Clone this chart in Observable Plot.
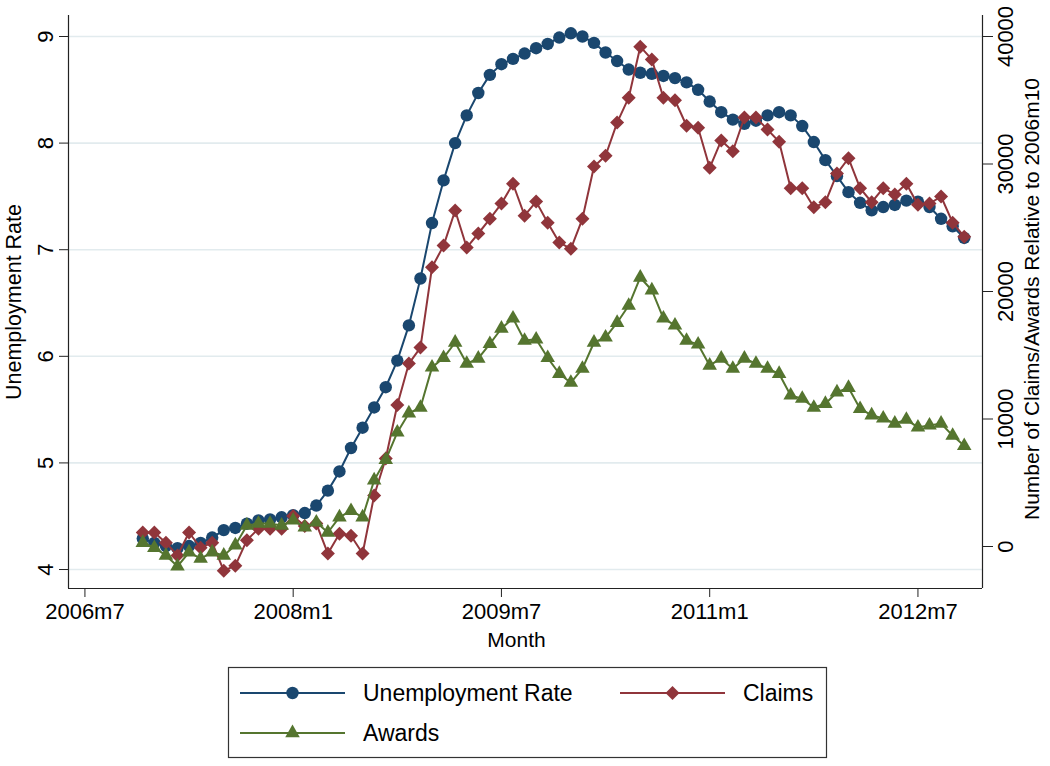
<!DOCTYPE html>
<html><head><meta charset="utf-8">
<script src="https://cdn.jsdelivr.net/npm/d3@7"></script>
<script src="https://cdn.jsdelivr.net/npm/@observablehq/plot@0.6"></script>
<style>
body{margin:0;background:#fff;font-family:"Liberation Sans",Arial,sans-serif;}
#wrap{width:1050px;height:766px;overflow:hidden;}
#wrap svg{display:block;}
</style></head><body><div id="wrap"></div>
<script>
const months = ["2006m12",
 "2007m1","2007m2","2007m3","2007m4","2007m5","2007m6","2007m7","2007m8","2007m9","2007m10","2007m11","2007m12",
 "2008m1","2008m2","2008m3","2008m4","2008m5","2008m6","2008m7","2008m8","2008m9","2008m10","2008m11","2008m12",
 "2009m1","2009m2","2009m3","2009m4","2009m5","2009m6","2009m7","2009m8","2009m9","2009m10","2009m11","2009m12",
 "2010m1","2010m2","2010m3","2010m4","2010m5","2010m6","2010m7","2010m8","2010m9","2010m10","2010m11","2010m12",
 "2011m1","2011m2","2011m3","2011m4","2011m5","2011m6","2011m7","2011m8","2011m9","2011m10","2011m11","2011m12",
 "2012m1","2012m2","2012m3","2012m4","2012m5","2012m6","2012m7","2012m8","2012m9","2012m10","2012m11"];
const unemployment = [4.29,4.25,4.22,4.20,4.22,4.25,4.30,4.37,4.39,4.43,
 4.46,4.47,4.49,4.51,4.53,4.60,4.74,4.92,5.14,5.33,
 5.52,5.71,5.96,6.29,6.73,7.25,7.65,8.00,8.26,8.47,
 8.64,8.74,8.79,8.84,8.89,8.93,8.99,9.03,9.00,8.94,
 8.85,8.77,8.69,8.66,8.65,8.63,8.61,8.57,8.50,8.39,
 8.29,8.22,8.18,8.21,8.26,8.29,8.26,8.16,8.01,7.84,
 7.69,7.54,7.44,7.37,7.40,7.42,7.46,7.45,7.40,7.29,
 7.22,7.11];
const claims = [1100,1100,300,-700,1100,-100,300,-1900,-1500,500,
 1400,1400,1400,2400,1600,1800,-550,1000,850,-550,
 4000,6900,11100,14350,15600,21900,23600,26350,23450,24550,
 25700,26900,28450,25950,27050,25400,23850,23350,25700,29800,
 30650,33250,35200,39200,38200,35200,35000,33000,32850,29700,
 31850,31000,33650,33650,32700,31750,28100,28100,26600,27000,
 29250,30450,28100,27000,28100,27600,28450,26800,26900,27450,
 25400,24300];
const awards = [300,-100,-700,-1550,-450,-950,-450,-700,100,1650,
 1800,1800,1650,2050,1500,1900,1100,2300,2800,2300,
 5200,6800,8950,10450,10900,14050,14800,16000,14350,14750,
 15900,17100,17900,16150,16250,14800,13550,12850,13950,16000,
 16400,17550,18900,21100,20100,17900,17350,16150,15850,14200,
 14750,13950,14750,14350,13950,13550,11850,11600,10900,11200,
 12100,12450,10800,10300,10050,9650,9950,9350,9500,9650,
 8700,7900];
const xTicks = ["2006m7","2008m1","2009m7","2011m1","2012m7"];
const leftTicks = [4,5,6,7,8,9];
const rightTicks = [0,10000,20000,30000,40000];
const seriesNames = ["Unemployment Rate","Claims","Awards"];
const colors = {"Unemployment Rate":"#1a476f","Claims":"#90353b","Awards":"#55752f"};

// helpers
const toNum = s => { const [y,m] = s.split("m").map(Number); return y*12 + m - 1; };
const fmtMonth = n => `${Math.floor(n/12)}m${n%12+1}`;
const PER_UNIT = 8361; // right-axis units per left-axis unit
const toLeft = v => 9 + (v - 40000)/PER_UNIT;
const fromLeft = y => (y - 9)*PER_UNIT + 40000;

const data = months.map((m,i)=>({t:toNum(m), u:unemployment[i], c:toLeft(claims[i]), a:toLeft(awards[i])}));
const x0 = toNum("2006m7");
const xMin = x0 - 1.42, xMax = x0 + 77.58, yMin = 3.822, yMax = 9.197;
const FONT = "Liberation Sans, Arial, sans-serif";

const chart = Plot.plot({
  width:1050, height:660, marginLeft:68, marginRight:68, marginTop:15, marginBottom:72,
  style:{fontFamily:FONT, background:"white", color:"#000", overflow:"visible"},
  x:{domain:[xMin,xMax]},
  y:{domain:[yMin,yMax]},
  marks:[
    Plot.ruleY(leftTicks,{stroke:"#e2ebee", strokeWidth:1.6}),
    Plot.lineY(data,{x:"t",y:"u",stroke:colors["Unemployment Rate"],strokeWidth:2}),
    Plot.dot(data,{x:"t",y:"u",fill:colors["Unemployment Rate"],r:6.2,symbol:"circle"}),
    Plot.lineY(data,{x:"t",y:"c",stroke:colors["Claims"],strokeWidth:2}),
    Plot.dot(data,{x:"t",y:"c",fill:colors["Claims"],r:6.3,symbol:"diamond2"}),
    Plot.lineY(data,{x:"t",y:"a",stroke:colors["Awards"],strokeWidth:2}),
    Plot.dot(data,{x:"t",y:"a",fill:colors["Awards"],r:5.4,symbol:"triangle"}),
    Plot.ruleX([xMin],{y1:yMin,y2:yMax,stroke:"#222",strokeWidth:1.2}),
    Plot.ruleX([xMax],{y1:yMin,y2:yMax,stroke:"#222",strokeWidth:1.2}),
    Plot.ruleY([yMin],{x1:xMin,x2:xMax,stroke:"#222",strokeWidth:1.2}),
    Plot.axisX(xTicks.map(toNum),{tickFormat:fmtMonth, tickSize:9, tickPadding:6, fontSize:22, label:null, stroke:"#222"}),
    Plot.axisY(leftTicks,{anchor:"left", tickRotate:-90, tickSize:9, tickPadding:7, fontSize:22, label:null, stroke:"#222",
      tickFormat: d => String(d)}),
    Plot.axisY(rightTicks.map(toLeft),{anchor:"right", tickRotate:-90, lineAnchor:"top", tickSize:10, tickPadding:5, fontSize:22, label:null, stroke:"#222",
      tickFormat: d => String(Math.round(fromLeft(d)/1000)*1000)}),
    Plot.text(["Month"],{frameAnchor:"bottom", dy:52, dx:-9, fontSize:21, textAnchor:"middle", lineAnchor:"middle"}),
    Plot.text(["Unemployment Rate"],{frameAnchor:"left", dx:-54, rotate:-90, fontSize:21.5, textAnchor:"middle", lineAnchor:"middle"}),
    Plot.text(["Number of Claims/Awards Relative to 2006m10"],{frameAnchor:"right", dx:50, dy:-3, rotate:-90, fontSize:21, textAnchor:"middle", lineAnchor:"middle"})
  ]
});
document.getElementById("wrap").appendChild(chart);

// legend below the chart
const lg = d3.select("#wrap").append("svg").attr("width",1050).attr("height",106)
  .style("font-family",FONT);
lg.append("rect").attr("x",228.5).attr("y",7.5).attr("width",598).attr("height",90)
  .attr("fill","white").attr("stroke","#333").attr("stroke-width",1.2);
const items = [
  {name:"Unemployment Rate", x:240, y:33, sym:d3.symbolCircle, size:Math.PI*6.2*6.2},
  {name:"Claims", x:620, y:33, sym:d3.symbolDiamond2, size:Math.PI*6.3*6.3},
  {name:"Awards", x:240, y:73, sym:d3.symbolTriangle, size:Math.PI*5.4*5.4}
];
items.forEach(it=>{
  const c = colors[it.name];
  lg.append("line").attr("x1",it.x).attr("x2",it.x+105).attr("y1",it.y).attr("y2",it.y)
    .attr("stroke",c).attr("stroke-width",2);
  lg.append("path").attr("d",d3.symbol(it.sym,it.size)()).attr("transform",`translate(${it.x+52.5},${it.y})`)
    .attr("fill",c);
  lg.append("text").attr("x",it.x+123).attr("y",it.y).attr("dy","0.35em")
    .attr("font-size",23).attr("fill","#000").text(it.name);
});
</script></body></html>
